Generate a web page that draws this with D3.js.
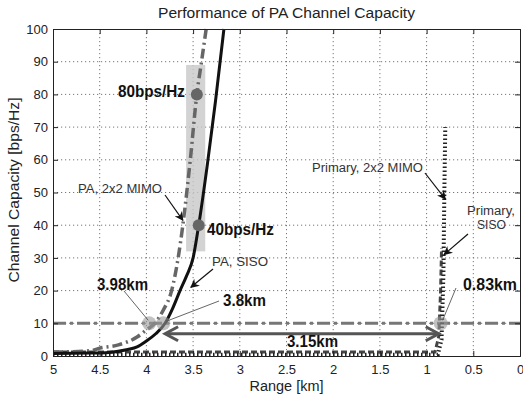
<!DOCTYPE html>
<html>
<head>
<meta charset="utf-8">
<script src="https://cdn.jsdelivr.net/npm/d3@7"></script>
<style>
  body { margin: 0; background: #fff; }
  text { font-family: Arial, "Liberation Sans", sans-serif; }
</style>
</head>
<body>
<svg class="chart"></svg>
<script>
    // data
    var xTicks = [5, 4.5, 4, 3.5, 3, 2.5, 2, 1.5, 1, 0.5, 0];
    var yTicks = [0, 10, 20, 30, 40, 50, 60, 70, 80, 90, 100];

    var rangePaSiso = [5, 4.6, 4.4, 4.2, 4.1, 4.0, 3.9, 3.8, 3.72, 3.64, 3.57, 3.5, 3.44, 3.35, 3.26, 3.17];
    var capPaSiso   = [0.8, 0.9, 1.1, 2.0, 2.8, 4.6, 6.8, 10, 14.5, 20, 24.5, 30, 40, 58, 78, 100];

    var rangePaMimo = [5, 4.6, 4.5, 4.3, 4.1, 4.0, 3.91, 3.82, 3.73, 3.66, 3.61, 3.53, 3.46, 3.41, 3.36];
    var capPaMimo   = [1.2, 1.6, 2.4, 3.4, 5.8, 8, 10, 14, 20, 30, 40, 60, 80, 90, 100];

    var rangePriSiso = [5, 0.91, 0.87, 0.85, 0.84];
    var capPriSiso   = [1.2, 1.2, 6, 20, 33];

    var rangePriMimo = [5, 0.88, 0.84, 0.82, 0.81, 0.80];
    var capPriMimo   = [0.4, 0.4, 5, 25, 50, 70];

    var threshold = 10;          // bps/Hz target line
    var gapRange = [3.8, 0.87];  // 3.15km arrow
    var gapCap = 6.8;
    var hitPoints = [[3.97, 10], [3.82, 10], [0.85, 10]];
    var capPoints = [[3.44, 40], [3.46, 80]];
    var bandRange = [3.575, 3.37];
    var bandCap = [32, 89];

    //________________
    var width = 523;
    var height = 399;
    var padL = 53, padR = 520, padT = 29, padB = 356;

    var x = d3.scaleLinear().domain([5, 0]).range([padL, padR]);
    var y = d3.scaleLinear().domain([0, 100]).range([padB, padT]);

    var chart = d3.select(".chart").attr("width", width).attr("height", height);

    var defs = chart.append("defs");
    defs.append("marker")
        .attr("id", "head")
        .attr("viewBox", "0 0 10 10")
        .attr("refX", 9).attr("refY", 5)
        .attr("markerWidth", 9).attr("markerHeight", 9)
        .attr("markerUnits", "userSpaceOnUse")
        .attr("orient", "auto")
        .append("path").attr("d", "M0,0 L10,5 L0,10 L3,5 Z").attr("fill", "#111");

    // grid
    chart.append("g").selectAll("line").data(xTicks.slice(1, -1)).enter().append("line")
        .attr("x1", function(d) { return x(d); }).attr("x2", function(d) { return x(d); })
        .attr("y1", padT).attr("y2", padB)
        .attr("stroke", "#777").attr("stroke-dasharray", "1.2,2.8");
    chart.append("g").selectAll("line").data(yTicks.slice(1, -1)).enter().append("line")
        .attr("y1", function(d) { return y(d); }).attr("y2", function(d) { return y(d); })
        .attr("x1", padL).attr("x2", padR)
        .attr("stroke", "#777").attr("stroke-dasharray", "1.2,2.8");

    // shaded band
    chart.append("rect")
        .attr("x", x(bandRange[0])).attr("width", x(bandRange[1]) - x(bandRange[0]))
        .attr("y", y(bandCap[1])).attr("height", y(bandCap[0]) - y(bandCap[1]))
        .attr("fill", "#c8c8c8").attr("opacity", 0.8);

    // threshold line
    chart.append("line")
        .attr("x1", padL).attr("x2", padR)
        .attr("y1", y(threshold)).attr("y2", y(threshold))
        .attr("stroke", "#777").attr("stroke-width", 3)
        .attr("stroke-dasharray", "13,4,3,4");

    var line = d3.line().x(function(d) { return x(d[0]); }).y(function(d) { return y(d[1]); });
    var smooth = d3.line().curve(d3.curveMonotoneX)
        .x(function(d) { return x(d[0]); }).y(function(d) { return y(d[1]); });

    // primary curves
    chart.append("path").datum(d3.zip(rangePriSiso, capPriSiso))
        .attr("d", line).attr("fill", "none")
        .attr("stroke", "#444").attr("stroke-width", 3).attr("stroke-dasharray", "6,3");
    chart.append("path").datum(d3.zip(rangePriMimo, capPriMimo))
        .attr("d", line).attr("fill", "none")
        .attr("stroke", "#222").attr("stroke-width", 4).attr("stroke-dasharray", "1.5,2.5");

    // PA curves
    chart.append("path").datum(d3.zip(rangePaMimo, capPaMimo))
        .attr("d", smooth).attr("fill", "none")
        .attr("stroke", "#666").attr("stroke-width", 3.5).attr("stroke-dasharray", "10,4,2,4");
    chart.append("path").datum(d3.zip(rangePaSiso, capPaSiso))
        .attr("d", smooth).attr("fill", "none")
        .attr("stroke", "#111").attr("stroke-width", 3);

    // 3.15km arrow
    chart.append("line")
        .attr("x1", x(gapRange[0]) + 2).attr("x2", x(gapRange[1]) - 2)
        .attr("y1", y(gapCap)).attr("y2", y(gapCap))
        .attr("stroke", "#555").attr("stroke-width", 3);
    chart.append("path")
        .attr("d", "M" + (x(gapRange[0]) + 13) + "," + (y(gapCap) - 7) + " L" + x(gapRange[0]) + "," + y(gapCap) +
                   " L" + (x(gapRange[0]) + 13) + "," + (y(gapCap) + 7))
        .attr("fill", "none").attr("stroke", "#555").attr("stroke-width", 3);
    chart.append("path")
        .attr("d", "M" + (x(gapRange[1]) - 13) + "," + (y(gapCap) - 7) + " L" + x(gapRange[1]) + "," + y(gapCap) +
                   " L" + (x(gapRange[1]) - 13) + "," + (y(gapCap) + 7))
        .attr("fill", "none").attr("stroke", "#555").attr("stroke-width", 3);

    // highlight circles
    chart.append("g").selectAll("circle").data(hitPoints).enter().append("circle")
        .attr("cx", function(d) { return x(d[0]); }).attr("cy", function(d) { return y(d[1]); })
        .attr("r", 7).attr("fill", "#999").attr("opacity", 0.6);
    chart.append("g").selectAll("circle").data(capPoints).enter().append("circle")
        .attr("cx", function(d) { return x(d[0]); }).attr("cy", function(d) { return y(d[1]); })
        .attr("r", 6).attr("fill", "#666");

    // leader lines
    function leader(x1, y1, x2, y2, head) {
        var l = chart.append("line")
            .attr("x1", x1).attr("y1", y1).attr("x2", x2).attr("y2", y2)
            .attr("stroke", head ? "#111" : "#555").attr("stroke-width", head ? 1.2 : 0.9);
        if (head) l.attr("marker-end", "url(#head)");
    }
    leader(165, 195, x(3.62) + 1, y(41.5), true);
    leader(213, 269, x(3.535) + 1, y(21), true);
    leader(425, 173, x(0.81) + 1, y(48), true);
    leader(468, 234, x(0.835) + 2, y(31), true);
    leader(124, 291, x(3.97) - 1, y(10) - 3, false);
    leader(219, 301, x(3.82) + 3, y(10) - 2, false);
    leader(456, 288, x(0.85) + 2, y(10) - 3, false);

    // labels
    function label(t, px, py, size, w, bold, anchor, color) {
        chart.append("text")
            .attr("x", px).attr("y", py)
            .attr("text-anchor", anchor || "start")
            .style("font-size", size + "px")
            .style("font-weight", bold ? "bold" : "normal")
            .attr("fill", color || "#111")
            .attr("textLength", w).attr("lengthAdjust", "spacingAndGlyphs")
            .text(t);
    }
    label("80bps/Hz", 118, 97, 16, 67, true);
    label("40bps/Hz", 207, 235, 16, 67, true);
    label("3.98km", 97, 290, 16, 51, true);
    label("3.8km", 223, 306, 16, 43, true);
    label("0.83km", 463, 290, 16, 54, true);
    label("3.15km", 287, 347, 16, 51, true);
    label("PA, 2x2 MIMO", 78, 193, 12.5, 84, false, "start", "#333");
    label("PA, SISO", 212, 266, 12.5, 56, false, "start", "#333");
    label("Primary, 2x2 MIMO", 312, 172, 12.5, 111, false, "start", "#333");
    label("Primary,", 467, 215, 12.5, 48, false, "start", "#333");
    label("SISO", 477, 229, 12.5, 29, false, "start", "#333");

    // axes
    chart.append("g")
        .attr("transform", "translate(0," + padB + ")")
        .call(d3.axisBottom(x).tickValues(xTicks).tickSize(-5).tickPadding(9).tickFormat(d3.format("")));
    chart.append("g")
        .attr("transform", "translate(" + padL + ",0)")
        .call(d3.axisLeft(y).tickValues(yTicks).tickSize(-5).tickPadding(5));
    chart.append("g")
        .attr("transform", "translate(0," + padT + ")")
        .call(d3.axisTop(x).tickValues(xTicks).tickSize(-5).tickFormat(""));
    chart.append("g")
        .attr("transform", "translate(" + padR + ",0)")
        .call(d3.axisRight(y).tickValues(yTicks).tickSize(-5).tickFormat(""));
    chart.selectAll(".domain").attr("stroke", "#222");
    chart.selectAll(".tick line").attr("stroke", "#222");
    chart.selectAll(".tick text")
        .style("font-size", "13px").style("font-family", "Arial, 'Liberation Sans', sans-serif")
        .attr("fill", "#222");

    // titles
    chart.append("text")
        .attr("x", (padL + padR) / 2).attr("y", 18)
        .attr("text-anchor", "middle").style("font-size", "14px").attr("fill", "#222")
        .attr("textLength", 257).attr("lengthAdjust", "spacingAndGlyphs")
        .text("Performance of PA Channel Capacity");
    chart.append("text")
        .attr("x", (padL + padR) / 2).attr("y", 391)
        .attr("text-anchor", "middle").style("font-size", "14px").attr("fill", "#222")
        .attr("textLength", 74).attr("lengthAdjust", "spacingAndGlyphs")
        .text("Range [km]");
    chart.append("text")
        .attr("transform", "rotate(-90)")
        .attr("x", -190).attr("y", 19)
        .attr("text-anchor", "middle").style("font-size", "14px").attr("fill", "#222")
        .attr("textLength", 185).attr("lengthAdjust", "spacingAndGlyphs")
        .text("Channel Capacity [bps/Hz]");
</script>
</body>
</html>
